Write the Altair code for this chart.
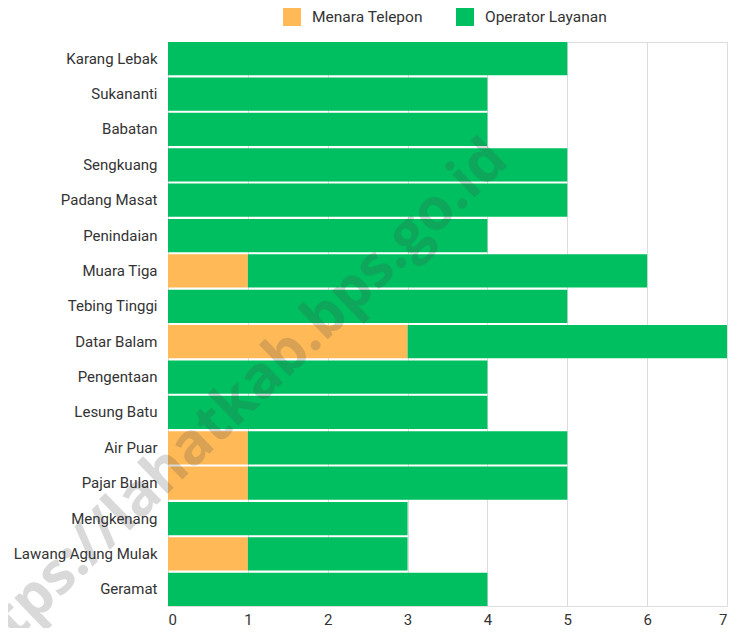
import altair as alt
import pandas as pd

villages = ["Karang Lebak", "Sukananti", "Babatan", "Sengkuang", "Padang Masat",
            "Penindaian", "Muara Tiga", "Tebing Tinggi", "Datar Balam", "Pengentaan",
            "Lesung Batu", "Air Puar", "Pajar Bulan", "Mengkenang",
            "Lawang Agung Mulak", "Geramat"]
menara_telepon = [0, 0, 0, 0, 0, 0, 1, 0, 3, 0, 0, 1, 1, 0, 1, 0]
operator_layanan = [5, 4, 4, 5, 5, 4, 5, 5, 4, 4, 4, 4, 4, 3, 2, 4]
series = ["Menara Telepon", "Operator Layanan"]
colors = ["#FFB957", "#00BF60"]
x_ticks = [0, 1, 2, 3, 4, 5, 6, 7]

rows = []
for v, m, o in zip(villages, menara_telepon, operator_layanan):
    rows.append({"desa": v, "seri": series[0], "nilai": m, "urut": 0})
    rows.append({"desa": v, "seri": series[1], "nilai": o, "urut": 1})
df = pd.DataFrame(rows)

FONT = "Roboto"
FS = 15

bars = alt.Chart(df).mark_bar(cornerRadius=0).encode(
    y=alt.Y("desa:N", sort=villages, title=None,
            scale=alt.Scale(paddingInner=0.06, paddingOuter=0.0),
            axis=alt.Axis(labelFontSize=FS, labelColor="#333333", labelFont=FONT,
                          labelPadding=11, ticks=False, domain=False, grid=False)),
    x=alt.X("nilai:Q", stack="zero", title=None,
            scale=alt.Scale(domain=[0, 7], nice=False),
            axis=alt.Axis(values=x_ticks, labelFontSize=FS, labelColor="#333333",
                          labelFont=FONT, labelPadding=6, ticks=False, domain=False,
                          grid=True, gridColor="#DDDDDD", gridWidth=1)),
    color=alt.Color("seri:N", scale=alt.Scale(domain=series, range=colors),
                    legend=alt.Legend(title=None, orient="none", legendX=115, legendY=-34,
                                      direction="horizontal", symbolType="square",
                                      symbolSize=324, symbolStrokeWidth=0,
                                      labelFontSize=FS + 0.5, labelFont=FONT,
                                      labelColor="#333333", labelOffset=11,
                                      columnPadding=33)),
    order=alt.Order("urut:Q"),
)

watermark = alt.Chart(pd.DataFrame({"t": ["https://lahatkab.bps.go.id"]})).mark_text(
    fontSize=58, fontWeight="bold", font="Open Sans", angle=316,
    color="#444444", opacity=0.2, align="center", baseline="middle"
).encode(text="t:N", x=alt.value(60), y=alt.value(370))

chart = alt.layer(bars, watermark).properties(
    width=559, height=564,
    autosize=alt.AutoSizeParams(type="none"),
    padding={"left": 160, "top": 34, "right": 4, "bottom": 22},
).configure_view(stroke=None).configure(font=FONT)

chart.save("out.html", embed_options={"renderer": "svg", "actions": False})
